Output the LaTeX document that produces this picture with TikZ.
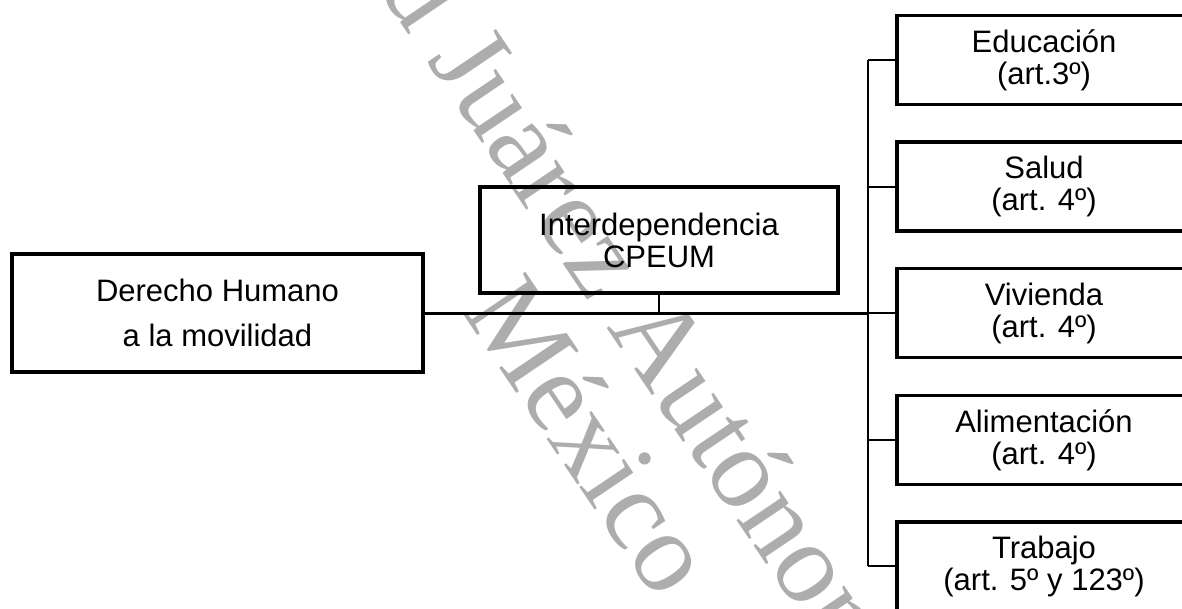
\documentclass[tikz,border=0pt]{standalone}
\usepackage{fontspec}
\setmainfont{Liberation Sans}
\newfontfamily\wmfont{Liberation Serif}
\begin{document}
\begin{tikzpicture}[x=1pt,y=-1pt,
  box/.style={draw, line width=3.5pt, rectangle, inner sep=0pt, align=center,
    font=\fontsize{31}{32}\selectfont},
  rbox/.style={box, minimum width=294pt, minimum height=89pt},
  thinline/.style={line width=2pt},
  mainline/.style={line width=3pt},
  wm/.style={rotate=-56, anchor=base west, inner sep=0pt, text=black!32,
    font=\wmfont\fontsize{115}{115}\selectfont}]
\useasboundingbox (0,0) rectangle (1182,609);
\clip (0,0) rectangle (1182,609);
% watermark
\node[wm] (wm1) at (426,60) {\llap{Universidad }Juárez Autónoma de Tabasco};
\node[wm] (wm2) at (461,311) {México};
% boxes
\node[box, minimum width=411pt, minimum height=118pt,
  font=\fontsize{31}{45}\selectfont] (L) at (217.5,313) {Derecho Humano\\a la movilidad};
\node[box, minimum width=358pt, minimum height=106pt] (I) at (659,240) {Interdependencia\\CPEUM};
\node[rbox] (E) at (1044,60) {Educación\\(art.3º)};
\node[rbox] (S) at (1044,186.6) {Salud\\(art. 4º)};
\node[rbox] (V) at (1044,313) {Vivienda\\(art. 4º)};
\node[rbox] (A) at (1044,439.8) {Alimentación\\(art. 4º)};
\node[rbox] (T) at (1044,566.4) {Trabajo\\(art. 5º y 123º)};
% connectors
\coordinate (bus) at (868,0);
\draw[mainline] (L.east) -- (L.east -| bus);
\draw[thinline] (I.south) -- (I.south |- L.east);
\draw[thinline] (E.west -| bus) -- (T.west -| bus);
\foreach \b in {E,S,V,A,T} {
  \draw[thinline] (\b.west -| bus) -- (\b.west);
}
\end{tikzpicture}
\end{document}
